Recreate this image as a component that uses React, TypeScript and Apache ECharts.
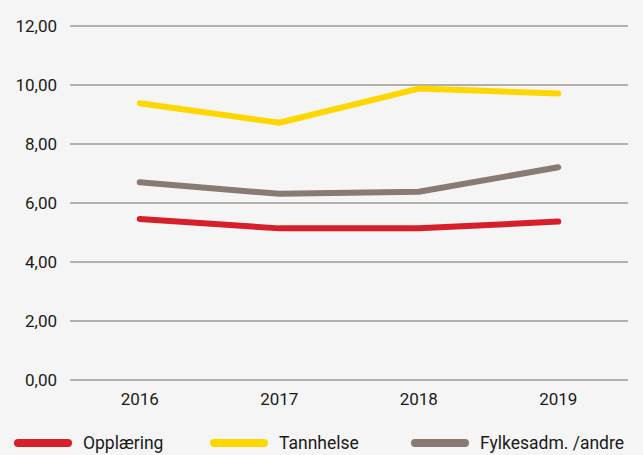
import React, { useEffect, useRef } from "react";
import * as echarts from "echarts";

const years = ["2016", "2017", "2018", "2019"];
const opplaering = [5.46, 5.14, 5.14, 5.37];
const tannhelse = [9.38, 8.72, 9.88, 9.71];
const fylkesadm = [6.7, 6.31, 6.38, 7.21];
const seriesNames = ["Opplæring", "Tannhelse", "Fylkesadm. /andre"];
const colors = ["#D71F2B", "#FFD700", "#877B74"];

const FONT = "Roboto";
const icon = "path://M4,0 H54 A4,4 0 0 1 54,8 H4 A4,4 0 0 1 4,0 Z";

export default function App() {
  const ref = useRef<HTMLDivElement>(null);
  useEffect(() => {
    if (!ref.current) return;
    const chart = echarts.init(ref.current, undefined, { renderer: "svg" });
    const data = [opplaering, tannhelse, fylkesadm];
    const legendLefts = [14, 210, 411];
    chart.setOption({
      animation: false,
      backgroundColor: "#F5F5F5",
      textStyle: { fontFamily: FONT },
      grid: { left: 70, right: 15, top: 26, bottom: 75 },
      legend: seriesNames.map((n, i) => ({
        data: [n],
        left: legendLefts[i],
        top: 434,
        icon,
        itemWidth: 58,
        itemHeight: 8,
        itemGap: 0,
        textStyle: { fontSize: 17.5, color: "#1A1A1A", fontFamily: FONT, padding: [0, 0, 0, 6] },
        padding: 0,
      })),
      xAxis: {
        type: "category",
        data: years,
        boundaryGap: true,
        axisLine: { show: false },
        axisTick: { show: false },
        axisLabel: { fontSize: 17, color: "#1A1A1A", margin: 10 },
      },
      yAxis: {
        type: "value",
        min: 0,
        max: 12,
        interval: 2,
        axisLine: { show: false },
        axisTick: { show: false },
        axisLabel: {
          fontSize: 17,
          color: "#1A1A1A",
          margin: 13,
          formatter: (v: number) => v.toFixed(2).replace(".", ","),
        },
        splitLine: { lineStyle: { color: "#B5AFA9", width: 2 } },
      },
      series: seriesNames.map((n, i) => ({
        name: n,
        type: "line",
        data: data[i],
        symbol: "none",
        color: colors[i],
        lineStyle: { width: 6, color: colors[i], cap: "round", join: "round" },
      })),
    });
    return () => chart.dispose();
  }, []);
  return <div ref={ref} style={{ width: 643, height: 455, position: "absolute", left: 0, top: 0 }} />;
}
